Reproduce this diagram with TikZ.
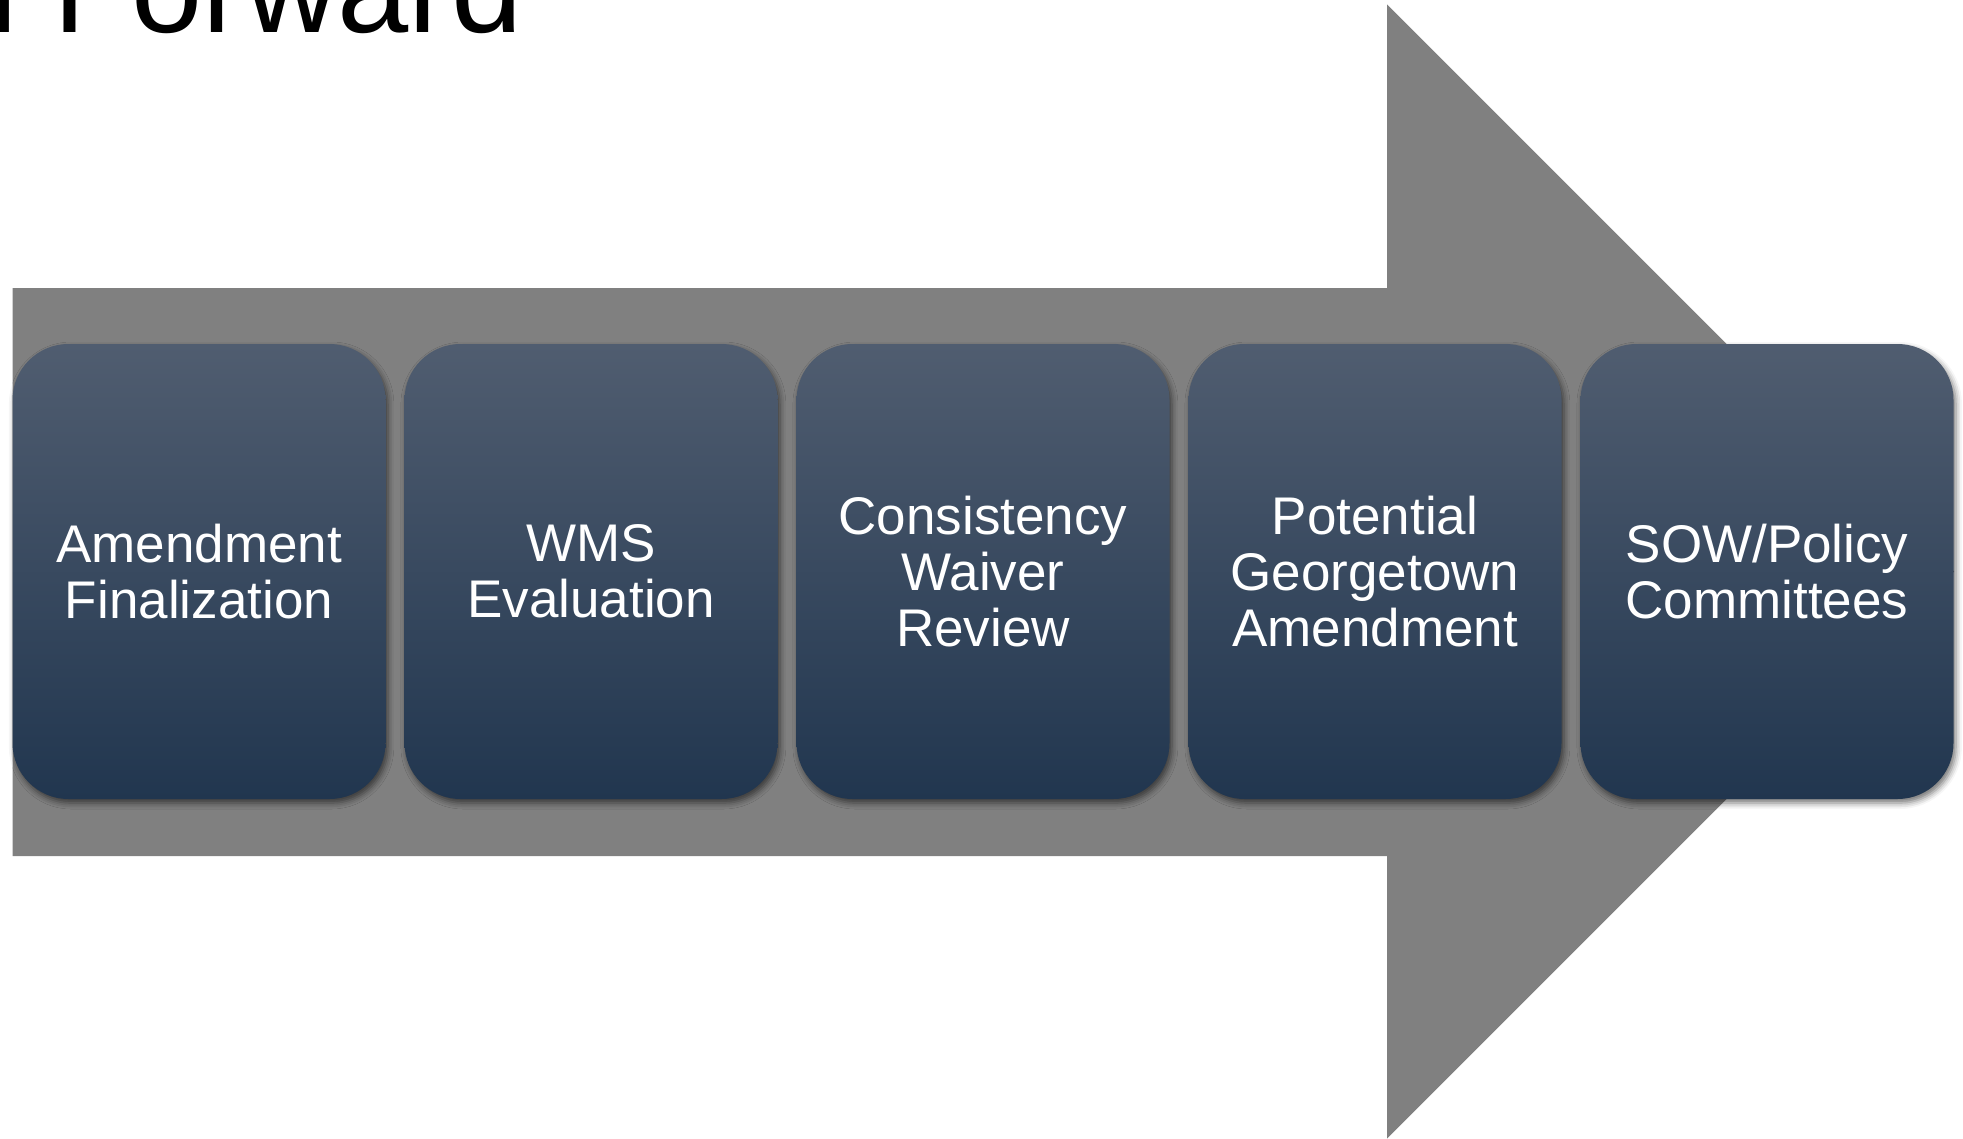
\documentclass[tikz,border=0pt]{standalone}
\usepackage{fontspec}
\setmainfont{Liberation Sans}
\usetikzlibrary{shadows.blur}
\definecolor{arrowgray}{HTML}{808080}
\definecolor{boxtop}{HTML}{505D70}
\definecolor{boxmid}{HTML}{2F4460}
\definecolor{boxbot}{HTML}{21364F}
\begin{document}
\begin{tikzpicture}[x=0.5pt,y=-0.5pt,
  stepbox/.style={rounded corners=28pt, minimum width=186.5pt, minimum height=227.5pt,
    top color=boxtop, middle color=boxmid, bottom color=boxbot, draw=none,
    text=white, align=center, font=\fontsize{26.5}{28}\selectfont, inner sep=0pt,
    blur shadow={shadow xshift=1.2pt, shadow yshift=-2pt, shadow blur radius=3pt, shadow opacity=55}},
  titletext/.style={anchor=base west, inner sep=0pt, font=\fontsize{64}{70}\selectfont, text=black}]
\useasboundingbox (0,0) rectangle (1963,1139);
\begin{scope}
\clip (0,0) rectangle (1963,1139);
\node[titletext] (title) at (-54,33) {n Forward};
\end{scope}
\fill[arrowgray] (12.5,288) -- (1387,288) -- (1387,4.5) -- (1954,571.5) -- (1387,1138.5) -- (1387,856) -- (12.5,856) -- cycle;
\node[stepbox] (b1) at (199,571.5) {Amendment\\Finalization};
\node[stepbox] (b2) at (591,571.5) {WMS\\Evaluation};
\node[stepbox] (b3) at (983,571.5) {Consistency\\Waiver\\Review};
\node[stepbox] (b4) at (1375,571.5) {Potential\\Georgetown\\Amendment};
\node[stepbox] (b5) at (1767,571.5) {SOW/Policy\\Committees};
\end{tikzpicture}
\end{document}
